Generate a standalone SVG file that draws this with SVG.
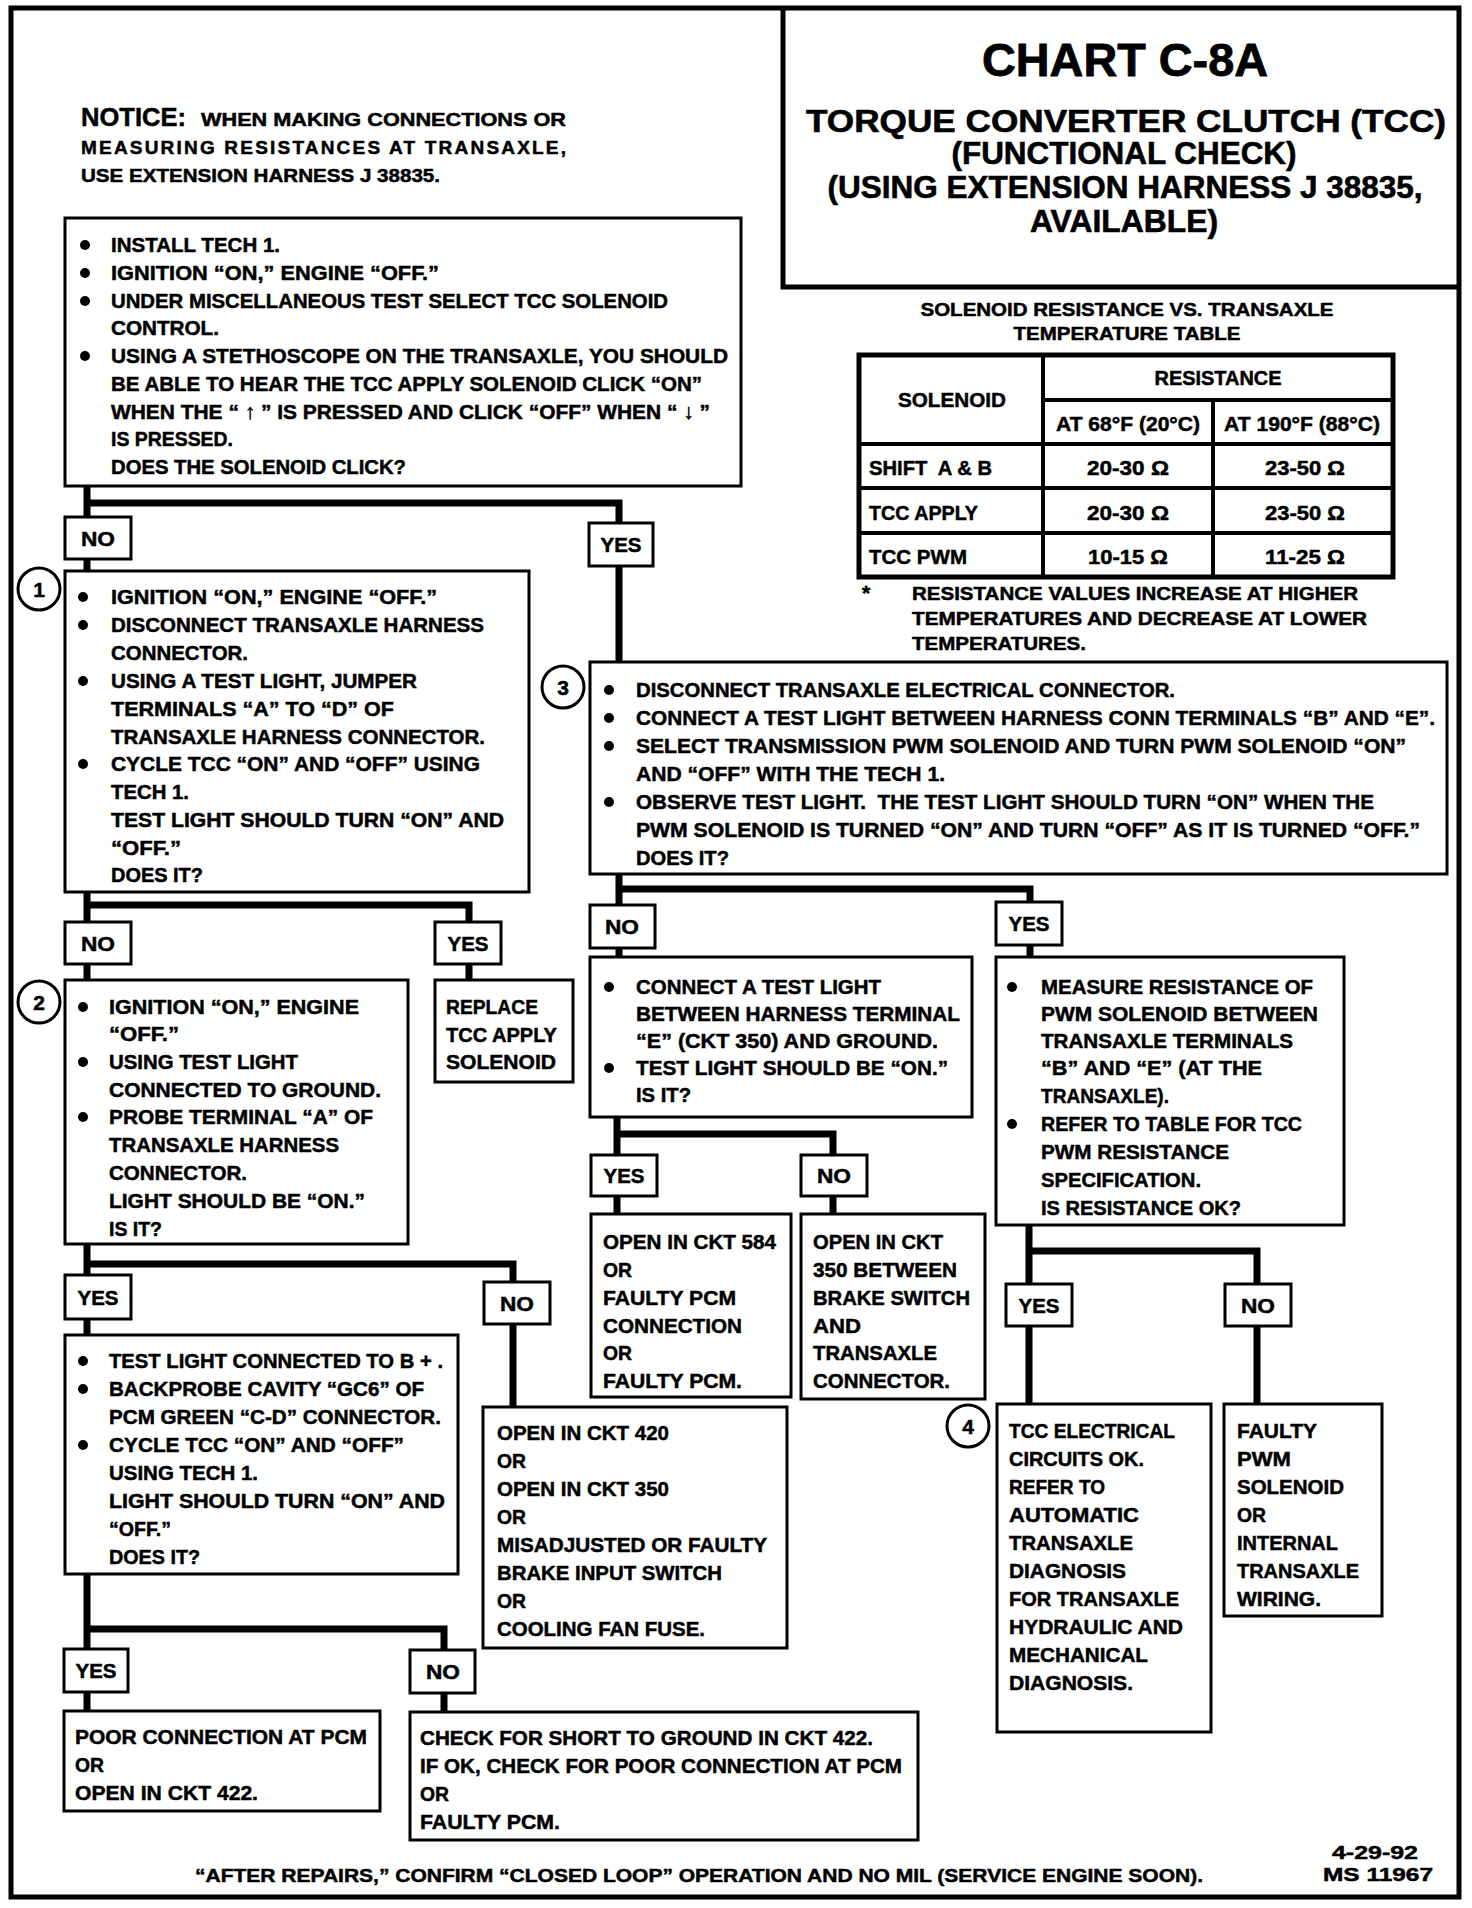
<svg xmlns="http://www.w3.org/2000/svg" width="1472" height="1908" viewBox="0 0 1472 1908">
<defs>
<style>
.frame{fill:none;stroke:#000;stroke-width:5}
.box{fill:#fff;stroke:#000;stroke-width:3}
.lbl{fill:#fff;stroke:#000;stroke-width:3}
.c{fill:none;stroke:#000;stroke-width:7;stroke-linejoin:miter;stroke-linecap:butt}
.tl{fill:none;stroke:#000;stroke-width:4}
.t{font-family:"Liberation Sans",Arial,sans-serif;font-weight:bold;font-size:21px;fill:#000;stroke:#000;stroke-width:0.5}
.s{font-family:"Liberation Sans",Arial,sans-serif;font-weight:bold;font-size:19px;fill:#000;stroke:#000;stroke-width:0.5}
.m{text-anchor:middle}
.h1{font-family:"Liberation Sans",Arial,sans-serif;font-weight:bold;font-size:46px;fill:#000;stroke:#000;stroke-width:0.8;text-anchor:middle}
.h2{font-family:"Liberation Sans",Arial,sans-serif;font-weight:bold;font-size:31px;fill:#000;stroke:#000;stroke-width:0.6;text-anchor:middle}
.bu{fill:#000}
.num{fill:#fff;stroke:#000;stroke-width:3}
</style>
</defs>
<rect x="0" y="0" width="1472" height="1908" fill="#fff"/>
<rect class="frame" x="11" y="8" width="1448" height="1889"/>

<g id="title">
<path class="frame" d="M783,8 V287 H1459"/>
<text class="h1" x="1125" y="76" textLength="286" lengthAdjust="spacingAndGlyphs">CHART C-8A</text>
<text class="h2" x="1126" y="132" textLength="640" lengthAdjust="spacingAndGlyphs">TORQUE CONVERTER CLUTCH (TCC)</text>
<text class="h2" x="1124" y="164" textLength="345" lengthAdjust="spacingAndGlyphs">(FUNCTIONAL CHECK)</text>
<text class="h2" x="1125" y="198" textLength="595" lengthAdjust="spacingAndGlyphs">(USING EXTENSION HARNESS J 38835,</text>
<text class="h2" x="1124" y="232" textLength="188" lengthAdjust="spacingAndGlyphs">AVAILABLE)</text>
</g>

<g id="notice">
<text class="t" x="81" y="126" style="font-size:25px" textLength="105" lengthAdjust="spacingAndGlyphs">NOTICE:</text>
<text class="s" x="201" y="126" textLength="365" lengthAdjust="spacingAndGlyphs">WHEN MAKING CONNECTIONS OR</text>
<text class="s" x="81" y="154" textLength="485" lengthAdjust="spacing">MEASURING RESISTANCES AT TRANSAXLE,</text>
<text class="s" x="81" y="182" textLength="359" lengthAdjust="spacingAndGlyphs">USE EXTENSION HARNESS J 38835.</text>
</g>

<g id="table">
<text class="s m" x="1127" y="316" textLength="413" lengthAdjust="spacingAndGlyphs">SOLENOID RESISTANCE VS. TRANSAXLE</text>
<text class="s m" x="1127" y="340" textLength="227" lengthAdjust="spacingAndGlyphs">TEMPERATURE TABLE</text>
<rect class="tl" x="859" y="355" width="534" height="222" style="stroke-width:5"/>
<path class="tl" d="M1043,355 V577 M1213,400 V577 M1043,400 H1393 M859,444 H1393 M859,488 H1393 M859,533 H1393"/>
<text class="t m" x="952" y="407" textLength="108" lengthAdjust="spacingAndGlyphs">SOLENOID</text>
<text class="t m" x="1218" y="385" textLength="127" lengthAdjust="spacingAndGlyphs">RESISTANCE</text>
<text class="t m" x="1128" y="431" textLength="144" lengthAdjust="spacingAndGlyphs">AT 68°F (20°C)</text>
<text class="t m" x="1302" y="431" textLength="156" lengthAdjust="spacingAndGlyphs">AT 190°F (88°C)</text>
<text class="t" x="869" y="475" textLength="123" lengthAdjust="spacingAndGlyphs" xml:space="preserve">SHIFT  A &amp; B</text>
<text class="t" x="869" y="520" textLength="109" lengthAdjust="spacingAndGlyphs">TCC APPLY</text>
<text class="t" x="869" y="564" textLength="98" lengthAdjust="spacingAndGlyphs">TCC PWM</text>
<text class="t m" x="1128" y="475" textLength="82" lengthAdjust="spacingAndGlyphs">20-30 Ω</text>
<text class="t m" x="1305" y="475" textLength="80" lengthAdjust="spacingAndGlyphs">23-50 Ω</text>
<text class="t m" x="1128" y="520" textLength="82" lengthAdjust="spacingAndGlyphs">20-30 Ω</text>
<text class="t m" x="1305" y="520" textLength="80" lengthAdjust="spacingAndGlyphs">23-50 Ω</text>
<text class="t m" x="1128" y="564" textLength="80" lengthAdjust="spacingAndGlyphs">10-15 Ω</text>
<text class="t m" x="1305" y="564" textLength="80" lengthAdjust="spacingAndGlyphs">11-25 Ω</text>
<text class="t" x="862" y="600">*</text>
<text class="s" x="912" y="600" textLength="446" lengthAdjust="spacingAndGlyphs">RESISTANCE VALUES INCREASE AT HIGHER</text>
<text class="s" x="912" y="625" textLength="455" lengthAdjust="spacingAndGlyphs">TEMPERATURES AND DECREASE AT LOWER</text>
<text class="s" x="912" y="650" textLength="174" lengthAdjust="spacingAndGlyphs">TEMPERATURES.</text>
</g>

<g id="connectors">
<path class="c" d="M87,486 V517 M87,503 H619 V523 M87,559 V571 M619,566 V662 M87,892 V922 M87,905 H469 V922 M87,964 V980 M469,964 V980 M87,1244 V1275 M87,1264 H513 V1282 M87,1319 V1335 M513,1324 V1407 M87,1574 V1649 M87,1629 H444 V1650 M87,1692 V1711 M444,1693 V1712 M619,874 V905 M619,889 H1030 V902 M619,948 V957 M1030,945 V957 M617,1117 V1155 M617,1134 H833 V1155 M617,1196 V1214 M833,1196 V1214 M1029,1225 V1284 M1029,1251 H1257 V1284 M1029,1326 V1404 M1257,1326 V1404"/>
</g>

<g id="nodeA">
<rect class="box" x="65" y="218" width="676" height="268"/>
<circle class="bu" cx="85" cy="245" r="5"/><circle class="bu" cx="85" cy="273" r="5"/><circle class="bu" cx="85" cy="301" r="5"/><circle class="bu" cx="85" cy="356" r="5"/>
<text class="t" x="111" y="252" textLength="169" lengthAdjust="spacingAndGlyphs">INSTALL TECH 1.</text>
<text class="t" x="111" y="280" textLength="328" lengthAdjust="spacingAndGlyphs">IGNITION “ON,” ENGINE “OFF.”</text>
<text class="t" x="111" y="308" textLength="557" lengthAdjust="spacingAndGlyphs">UNDER MISCELLANEOUS TEST SELECT TCC SOLENOID</text>
<text class="t" x="111" y="335" textLength="108" lengthAdjust="spacingAndGlyphs">CONTROL.</text>
<text class="t" x="111" y="363" textLength="617" lengthAdjust="spacingAndGlyphs">USING A STETHOSCOPE ON THE TRANSAXLE, YOU SHOULD</text>
<text class="t" x="111" y="391" textLength="591" lengthAdjust="spacingAndGlyphs">BE ABLE TO HEAR THE TCC APPLY SOLENOID CLICK “ON”</text>
<text class="t" x="111" y="419" textLength="599" lengthAdjust="spacingAndGlyphs">WHEN THE “ ↑ ” IS PRESSED AND CLICK “OFF” WHEN “ ↓ ”</text>
<text class="t" x="111" y="446" textLength="122" lengthAdjust="spacingAndGlyphs">IS PRESSED.</text>
<text class="t" x="111" y="474" textLength="295" lengthAdjust="spacingAndGlyphs">DOES THE SOLENOID CLICK?</text>
</g>

<g id="no1"><rect class="lbl" x="65" y="517" width="66" height="42"/><text class="t m" x="98" y="546" textLength="34" lengthAdjust="spacingAndGlyphs">NO</text></g>
<g id="yes1"><rect class="lbl" x="589" y="523" width="64" height="43"/><text class="t m" x="621" y="552" textLength="41" lengthAdjust="spacingAndGlyphs">YES</text></g>

<g id="node1">
<rect class="box" x="65" y="571" width="464" height="321"/>
<circle class="bu" cx="83" cy="597" r="5"/><circle class="bu" cx="83" cy="625" r="5"/><circle class="bu" cx="83" cy="681" r="5"/><circle class="bu" cx="83" cy="764" r="5"/>
<text class="t" x="111" y="604" textLength="326" lengthAdjust="spacingAndGlyphs">IGNITION “ON,” ENGINE “OFF.”</text>
<text class="t" x="111" y="632" textLength="373" lengthAdjust="spacingAndGlyphs">DISCONNECT TRANSAXLE HARNESS</text>
<text class="t" x="111" y="660" textLength="137" lengthAdjust="spacingAndGlyphs">CONNECTOR.</text>
<text class="t" x="111" y="688" textLength="306" lengthAdjust="spacingAndGlyphs">USING A TEST LIGHT, JUMPER</text>
<text class="t" x="111" y="716" textLength="283" lengthAdjust="spacingAndGlyphs">TERMINALS “A” TO “D” OF</text>
<text class="t" x="111" y="744" textLength="374" lengthAdjust="spacingAndGlyphs">TRANSAXLE HARNESS CONNECTOR.</text>
<text class="t" x="111" y="771" textLength="369" lengthAdjust="spacingAndGlyphs">CYCLE TCC “ON” AND “OFF” USING</text>
<text class="t" x="111" y="799" textLength="78" lengthAdjust="spacingAndGlyphs">TECH 1.</text>
<text class="t" x="111" y="827" textLength="393" lengthAdjust="spacingAndGlyphs">TEST LIGHT SHOULD TURN “ON” AND</text>
<text class="t" x="111" y="855" textLength="70" lengthAdjust="spacingAndGlyphs">“OFF.”</text>
<text class="t" x="111" y="882" textLength="92" lengthAdjust="spacingAndGlyphs">DOES IT?</text>
<circle class="num" cx="39" cy="589" r="21"/><text class="t m" x="39" y="597">1</text>
</g>

<g id="no2"><rect class="lbl" x="65" y="922" width="66" height="42"/><text class="t m" x="98" y="951" textLength="34" lengthAdjust="spacingAndGlyphs">NO</text></g>
<g id="yes2"><rect class="lbl" x="435" y="922" width="66" height="42"/><text class="t m" x="468" y="951" textLength="41" lengthAdjust="spacingAndGlyphs">YES</text></g>

<g id="node2">
<rect class="box" x="65" y="980" width="343" height="264"/>
<circle class="bu" cx="83" cy="1007" r="5"/><circle class="bu" cx="83" cy="1062" r="5"/><circle class="bu" cx="83" cy="1117" r="5"/>
<text class="t" x="109" y="1014" textLength="250" lengthAdjust="spacingAndGlyphs">IGNITION “ON,” ENGINE</text>
<text class="t" x="109" y="1041" textLength="70" lengthAdjust="spacingAndGlyphs">“OFF.”</text>
<text class="t" x="109" y="1069" textLength="189" lengthAdjust="spacingAndGlyphs">USING TEST LIGHT</text>
<text class="t" x="109" y="1097" textLength="272" lengthAdjust="spacingAndGlyphs">CONNECTED TO GROUND.</text>
<text class="t" x="109" y="1124" textLength="264" lengthAdjust="spacingAndGlyphs">PROBE TERMINAL “A” OF</text>
<text class="t" x="109" y="1152" textLength="230" lengthAdjust="spacingAndGlyphs">TRANSAXLE HARNESS</text>
<text class="t" x="109" y="1180" textLength="138" lengthAdjust="spacingAndGlyphs">CONNECTOR.</text>
<text class="t" x="109" y="1208" textLength="256" lengthAdjust="spacingAndGlyphs">LIGHT SHOULD BE “ON.”</text>
<text class="t" x="109" y="1236" textLength="53" lengthAdjust="spacingAndGlyphs">IS IT?</text>
<circle class="num" cx="39" cy="1002" r="21"/><text class="t m" x="39" y="1010">2</text>
</g>

<g id="replace">
<rect class="box" x="435" y="980" width="138" height="102"/>
<text class="t" x="446" y="1014" textLength="92" lengthAdjust="spacingAndGlyphs">REPLACE</text>
<text class="t" x="446" y="1042" textLength="111" lengthAdjust="spacingAndGlyphs">TCC APPLY</text>
<text class="t" x="446" y="1069" textLength="110" lengthAdjust="spacingAndGlyphs">SOLENOID</text>
</g>

<g id="yes3"><rect class="lbl" x="65" y="1275" width="66" height="44"/><text class="t m" x="98" y="1305" textLength="41" lengthAdjust="spacingAndGlyphs">YES</text></g>
<g id="no3"><rect class="lbl" x="484" y="1282" width="66" height="42"/><text class="t m" x="517" y="1311" textLength="34" lengthAdjust="spacingAndGlyphs">NO</text></g>

<g id="node-b">
<rect class="box" x="65" y="1335" width="393" height="239"/>
<circle class="bu" cx="83" cy="1361" r="5"/><circle class="bu" cx="83" cy="1389" r="5"/><circle class="bu" cx="83" cy="1445" r="5"/>
<text class="t" x="109" y="1368" textLength="334" lengthAdjust="spacingAndGlyphs">TEST LIGHT CONNECTED TO B + .</text>
<text class="t" x="109" y="1396" textLength="315" lengthAdjust="spacingAndGlyphs">BACKPROBE CAVITY “GC6” OF</text>
<text class="t" x="109" y="1424" textLength="332" lengthAdjust="spacingAndGlyphs">PCM GREEN “C-D” CONNECTOR.</text>
<text class="t" x="109" y="1452" textLength="295" lengthAdjust="spacingAndGlyphs">CYCLE TCC “ON” AND “OFF”</text>
<text class="t" x="109" y="1480" textLength="149" lengthAdjust="spacingAndGlyphs">USING TECH 1.</text>
<text class="t" x="109" y="1508" textLength="336" lengthAdjust="spacingAndGlyphs">LIGHT SHOULD TURN “ON” AND</text>
<text class="t" x="109" y="1536" textLength="62" lengthAdjust="spacingAndGlyphs">“OFF.”</text>
<text class="t" x="109" y="1564" textLength="91" lengthAdjust="spacingAndGlyphs">DOES IT?</text>
</g>

<g id="open420">
<rect class="box" x="483" y="1407" width="304" height="241"/>
<text class="t" x="497" y="1440" textLength="172" lengthAdjust="spacingAndGlyphs">OPEN IN CKT 420</text>
<text class="t" x="497" y="1468" textLength="29" lengthAdjust="spacingAndGlyphs">OR</text>
<text class="t" x="497" y="1496" textLength="172" lengthAdjust="spacingAndGlyphs">OPEN IN CKT 350</text>
<text class="t" x="497" y="1524" textLength="29" lengthAdjust="spacingAndGlyphs">OR</text>
<text class="t" x="497" y="1552" textLength="270" lengthAdjust="spacingAndGlyphs">MISADJUSTED OR FAULTY</text>
<text class="t" x="497" y="1580" textLength="225" lengthAdjust="spacingAndGlyphs">BRAKE INPUT SWITCH</text>
<text class="t" x="497" y="1608" textLength="29" lengthAdjust="spacingAndGlyphs">OR</text>
<text class="t" x="497" y="1636" textLength="208" lengthAdjust="spacingAndGlyphs">COOLING FAN FUSE.</text>
</g>

<g id="yes4"><rect class="lbl" x="64" y="1649" width="64" height="43"/><text class="t m" x="96" y="1678" textLength="41" lengthAdjust="spacingAndGlyphs">YES</text></g>
<g id="no4"><rect class="lbl" x="410" y="1650" width="65" height="43"/><text class="t m" x="443" y="1679" textLength="34" lengthAdjust="spacingAndGlyphs">NO</text></g>

<g id="poor">
<rect class="box" x="64" y="1711" width="316" height="100"/>
<text class="t" x="75" y="1744" textLength="292" lengthAdjust="spacingAndGlyphs">POOR CONNECTION AT PCM</text>
<text class="t" x="75" y="1772" textLength="29" lengthAdjust="spacingAndGlyphs">OR</text>
<text class="t" x="75" y="1800" textLength="183" lengthAdjust="spacingAndGlyphs">OPEN IN CKT 422.</text>
</g>

<g id="check">
<rect class="box" x="410" y="1712" width="508" height="128"/>
<text class="t" x="420" y="1745" textLength="453" lengthAdjust="spacingAndGlyphs">CHECK FOR SHORT TO GROUND IN CKT 422.</text>
<text class="t" x="420" y="1773" textLength="482" lengthAdjust="spacingAndGlyphs">IF OK, CHECK FOR POOR CONNECTION AT PCM</text>
<text class="t" x="420" y="1801" textLength="29" lengthAdjust="spacingAndGlyphs">OR</text>
<text class="t" x="420" y="1829" textLength="140" lengthAdjust="spacingAndGlyphs">FAULTY PCM.</text>
</g>

<g id="node3">
<rect class="box" x="590" y="662" width="857" height="212"/>
<circle class="bu" cx="609" cy="690" r="5"/><circle class="bu" cx="609" cy="718" r="5"/><circle class="bu" cx="609" cy="746" r="5"/><circle class="bu" cx="609" cy="802" r="5"/>
<text class="t" x="636" y="697" textLength="539" lengthAdjust="spacingAndGlyphs">DISCONNECT TRANSAXLE ELECTRICAL CONNECTOR.</text>
<text class="t" x="636" y="725" textLength="799" lengthAdjust="spacingAndGlyphs">CONNECT A TEST LIGHT BETWEEN HARNESS CONN TERMINALS “B” AND “E”.</text>
<text class="t" x="636" y="753" textLength="770" lengthAdjust="spacingAndGlyphs">SELECT TRANSMISSION PWM SOLENOID AND TURN PWM SOLENOID “ON”</text>
<text class="t" x="636" y="781" textLength="309" lengthAdjust="spacingAndGlyphs">AND “OFF” WITH THE TECH 1.</text>
<text class="t" x="636" y="809" textLength="738" lengthAdjust="spacingAndGlyphs" xml:space="preserve">OBSERVE TEST LIGHT.  THE TEST LIGHT SHOULD TURN “ON” WHEN THE</text>
<text class="t" x="636" y="837" textLength="784" lengthAdjust="spacingAndGlyphs">PWM SOLENOID IS TURNED “ON” AND TURN “OFF” AS IT IS TURNED “OFF.”</text>
<text class="t" x="636" y="865" textLength="93" lengthAdjust="spacingAndGlyphs">DOES IT?</text>
<circle class="num" cx="563" cy="687" r="21"/><text class="t m" x="563" y="695">3</text>
</g>

<g id="no5"><rect class="lbl" x="590" y="905" width="65" height="43"/><text class="t m" x="622" y="934" textLength="34" lengthAdjust="spacingAndGlyphs">NO</text></g>
<g id="yes5"><rect class="lbl" x="996" y="902" width="66" height="43"/><text class="t m" x="1029" y="931" textLength="41" lengthAdjust="spacingAndGlyphs">YES</text></g>

<g id="connect">
<rect class="box" x="590" y="957" width="382" height="160"/>
<circle class="bu" cx="609" cy="987" r="5"/><circle class="bu" cx="609" cy="1068" r="5"/>
<text class="t" x="636" y="994" textLength="245" lengthAdjust="spacingAndGlyphs">CONNECT A TEST LIGHT</text>
<text class="t" x="636" y="1021" textLength="324" lengthAdjust="spacingAndGlyphs">BETWEEN HARNESS TERMINAL</text>
<text class="t" x="636" y="1048" textLength="302" lengthAdjust="spacingAndGlyphs">“E” (CKT 350) AND GROUND.</text>
<text class="t" x="636" y="1075" textLength="312" lengthAdjust="spacingAndGlyphs">TEST LIGHT SHOULD BE “ON.”</text>
<text class="t" x="636" y="1102" textLength="55" lengthAdjust="spacingAndGlyphs">IS IT?</text>
</g>

<g id="measure">
<rect class="box" x="996" y="957" width="348" height="268"/>
<circle class="bu" cx="1012" cy="987" r="5"/><circle class="bu" cx="1012" cy="1124" r="5"/>
<text class="t" x="1041" y="994" textLength="272" lengthAdjust="spacingAndGlyphs">MEASURE RESISTANCE OF</text>
<text class="t" x="1041" y="1021" textLength="277" lengthAdjust="spacingAndGlyphs">PWM SOLENOID BETWEEN</text>
<text class="t" x="1041" y="1048" textLength="252" lengthAdjust="spacingAndGlyphs">TRANSAXLE TERMINALS</text>
<text class="t" x="1041" y="1075" textLength="221" lengthAdjust="spacingAndGlyphs">“B” AND “E” (AT THE</text>
<text class="t" x="1041" y="1103" textLength="128" lengthAdjust="spacingAndGlyphs">TRANSAXLE).</text>
<text class="t" x="1041" y="1131" textLength="261" lengthAdjust="spacingAndGlyphs">REFER TO TABLE FOR TCC</text>
<text class="t" x="1041" y="1159" textLength="188" lengthAdjust="spacingAndGlyphs">PWM RESISTANCE</text>
<text class="t" x="1041" y="1187" textLength="160" lengthAdjust="spacingAndGlyphs">SPECIFICATION.</text>
<text class="t" x="1041" y="1215" textLength="200" lengthAdjust="spacingAndGlyphs">IS RESISTANCE OK?</text>
</g>

<g id="yes7"><rect class="lbl" x="591" y="1155" width="66" height="41"/><text class="t m" x="624" y="1183" textLength="41" lengthAdjust="spacingAndGlyphs">YES</text></g>
<g id="no7"><rect class="lbl" x="801" y="1155" width="66" height="41"/><text class="t m" x="834" y="1183" textLength="34" lengthAdjust="spacingAndGlyphs">NO</text></g>

<g id="open584">
<rect class="box" x="591" y="1214" width="200" height="183"/>
<text class="t" x="603" y="1249" textLength="173" lengthAdjust="spacingAndGlyphs">OPEN IN CKT 584</text>
<text class="t" x="603" y="1277" textLength="29" lengthAdjust="spacingAndGlyphs">OR</text>
<text class="t" x="603" y="1305" textLength="133" lengthAdjust="spacingAndGlyphs">FAULTY PCM</text>
<text class="t" x="603" y="1333" textLength="139" lengthAdjust="spacingAndGlyphs">CONNECTION</text>
<text class="t" x="603" y="1360" textLength="29" lengthAdjust="spacingAndGlyphs">OR</text>
<text class="t" x="603" y="1388" textLength="139" lengthAdjust="spacingAndGlyphs">FAULTY PCM.</text>
</g>

<g id="open350">
<rect class="box" x="801" y="1214" width="184" height="185"/>
<text class="t" x="813" y="1249" textLength="130" lengthAdjust="spacingAndGlyphs">OPEN IN CKT</text>
<text class="t" x="813" y="1277" textLength="144" lengthAdjust="spacingAndGlyphs">350 BETWEEN</text>
<text class="t" x="813" y="1305" textLength="157" lengthAdjust="spacingAndGlyphs">BRAKE SWITCH</text>
<text class="t" x="813" y="1333" textLength="48" lengthAdjust="spacingAndGlyphs">AND</text>
<text class="t" x="813" y="1360" textLength="124" lengthAdjust="spacingAndGlyphs">TRANSAXLE</text>
<text class="t" x="813" y="1388" textLength="137" lengthAdjust="spacingAndGlyphs">CONNECTOR.</text>
</g>

<g id="yes6"><rect class="lbl" x="1006" y="1284" width="66" height="42"/><text class="t m" x="1039" y="1313" textLength="41" lengthAdjust="spacingAndGlyphs">YES</text></g>
<g id="no6"><rect class="lbl" x="1225" y="1284" width="66" height="42"/><text class="t m" x="1258" y="1313" textLength="34" lengthAdjust="spacingAndGlyphs">NO</text></g>

<g id="node4">
<rect class="box" x="997" y="1404" width="214" height="328"/>
<text class="t" x="1009" y="1438" textLength="166" lengthAdjust="spacingAndGlyphs">TCC ELECTRICAL</text>
<text class="t" x="1009" y="1466" textLength="135" lengthAdjust="spacingAndGlyphs">CIRCUITS OK.</text>
<text class="t" x="1009" y="1494" textLength="96" lengthAdjust="spacingAndGlyphs">REFER TO</text>
<text class="t" x="1009" y="1522" textLength="130" lengthAdjust="spacingAndGlyphs">AUTOMATIC</text>
<text class="t" x="1009" y="1550" textLength="124" lengthAdjust="spacingAndGlyphs">TRANSAXLE</text>
<text class="t" x="1009" y="1578" textLength="117" lengthAdjust="spacingAndGlyphs">DIAGNOSIS</text>
<text class="t" x="1009" y="1606" textLength="170" lengthAdjust="spacingAndGlyphs">FOR TRANSAXLE</text>
<text class="t" x="1009" y="1634" textLength="174" lengthAdjust="spacingAndGlyphs">HYDRAULIC AND</text>
<text class="t" x="1009" y="1662" textLength="139" lengthAdjust="spacingAndGlyphs">MECHANICAL</text>
<text class="t" x="1009" y="1690" textLength="124" lengthAdjust="spacingAndGlyphs">DIAGNOSIS.</text>
<circle class="num" cx="968" cy="1426" r="21"/><text class="t m" x="968" y="1434">4</text>
</g>

<g id="faulty">
<rect class="box" x="1224" y="1404" width="158" height="212"/>
<text class="t" x="1237" y="1438" textLength="80" lengthAdjust="spacingAndGlyphs">FAULTY</text>
<text class="t" x="1237" y="1466" textLength="54" lengthAdjust="spacingAndGlyphs">PWM</text>
<text class="t" x="1237" y="1494" textLength="107" lengthAdjust="spacingAndGlyphs">SOLENOID</text>
<text class="t" x="1237" y="1522" textLength="29" lengthAdjust="spacingAndGlyphs">OR</text>
<text class="t" x="1237" y="1550" textLength="101" lengthAdjust="spacingAndGlyphs">INTERNAL</text>
<text class="t" x="1237" y="1578" textLength="122" lengthAdjust="spacingAndGlyphs">TRANSAXLE</text>
<text class="t" x="1237" y="1606" textLength="84" lengthAdjust="spacingAndGlyphs">WIRING.</text>
</g>

<g id="footer">
<text class="s" x="195" y="1882" textLength="1008" lengthAdjust="spacingAndGlyphs">“AFTER REPAIRS,” CONFIRM “CLOSED LOOP” OPERATION AND NO MIL (SERVICE ENGINE SOON).</text>
<text class="s m" x="1375" y="1859" textLength="86" lengthAdjust="spacingAndGlyphs">4-29-92</text>
<text class="s m" x="1378" y="1881" textLength="110" lengthAdjust="spacingAndGlyphs">MS 11967</text>
</g>
</svg>
